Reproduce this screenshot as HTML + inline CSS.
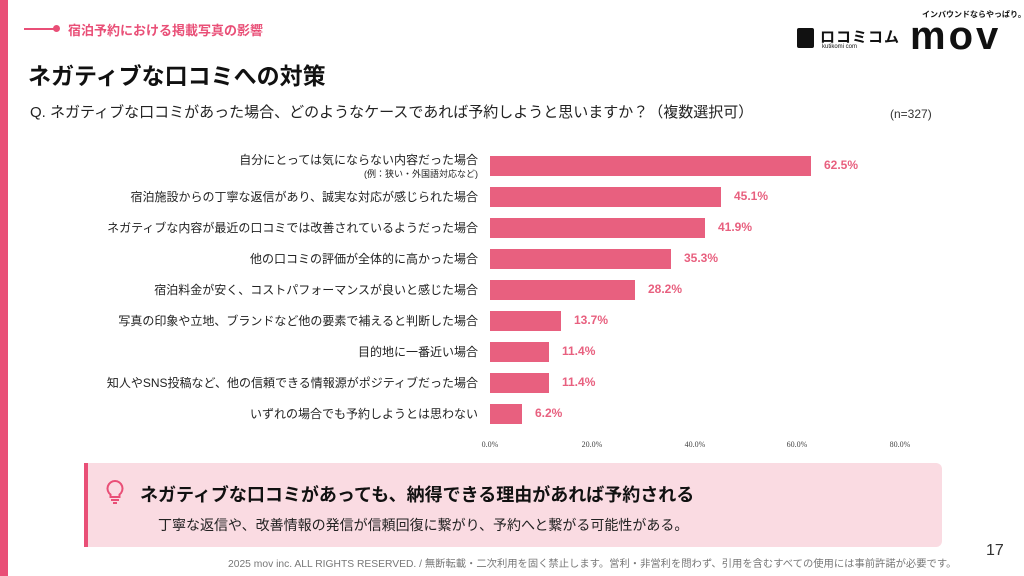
<!DOCTYPE html>
<html><head><meta charset="utf-8"><style>
*{margin:0;padding:0;box-sizing:border-box}
body{width:1024px;height:576px;background:#fff;position:relative;overflow:hidden;font-family:"Liberation Sans","Noto Sans CJK JP",sans-serif;color:#222}
.a{position:absolute;white-space:nowrap}
.bar{position:absolute;left:490px;height:20px;background:#e8607f}
.lab{position:absolute;right:546px;font-size:12px;color:#222;text-align:right}
.val{position:absolute;font-size:12px;font-weight:bold;color:#e8607f}
.tk{position:absolute;top:440px;font-size:8px;font-family:"Liberation Serif",serif;color:#444;transform:translateX(-50%)}
</style></head><body>
<div class="a" style="left:0;top:0;width:8px;height:576px;background:#e94f77"></div>
<div class="a" style="left:24px;top:28px;width:30px;height:2px;background:#e94f77"></div>
<div class="a" style="left:53px;top:25px;width:7px;height:7px;border-radius:50%;background:#e94f77"></div>
<div class="a" style="left:68px;top:20px;font-size:13px;font-weight:bold;color:#e94f77">宿泊予約における掲載写真の影響</div>
<div class="a" style="left:28px;top:57px;font-size:23px;font-weight:bold;color:#111">ネガティブな口コミへの対策</div>
<div class="a" style="left:30px;top:101px;font-size:15px;color:#222">Q. ネガティブな口コミがあった場合、どのようなケースであれば予約しようと思いますか？（複数選択可）</div>
<div class="a" style="left:890px;top:107px;font-size:12px;color:#333">(n=327)</div>
<div class="a" style="left:797px;top:28px;width:17px;height:20px;background:#111;border-radius:2px"></div>
<div class="a" style="left:820px;top:26px;font-size:15px;font-weight:bold;color:#111;letter-spacing:1px">ロコミコム</div>
<div class="a" style="left:822px;top:44px;font-size:6px;color:#111">kutikomi com</div>
<div class="a" style="left:922px;top:9px;font-size:8px;font-weight:bold;color:#111">インバウンドならやっぱり。</div>
<div class="a" style="left:910px;top:14px;font-size:40px;font-weight:bold;color:#111;letter-spacing:3px">mov</div>

<div class="lab" style="top:151px">自分にとっては気にならない内容だった場合</div>
<div class="lab" style="top:167px;font-size:9px">(例：狭い・外国語対応など)</div>
<div class="lab" style="top:188px">宿泊施設からの丁寧な返信があり、誠実な対応が感じられた場合</div>
<div class="lab" style="top:219px">ネガティブな内容が最近の口コミでは改善されているようだった場合</div>
<div class="lab" style="top:250px">他の口コミの評価が全体的に高かった場合</div>
<div class="lab" style="top:281px">宿泊料金が安く、コストパフォーマンスが良いと感じた場合</div>
<div class="lab" style="top:312px">写真の印象や立地、ブランドなど他の要素で補えると判断した場合</div>
<div class="lab" style="top:343px">目的地に一番近い場合</div>
<div class="lab" style="top:374px">知人やSNS投稿など、他の信頼できる情報源がポジティブだった場合</div>
<div class="lab" style="top:405px">いずれの場合でも予約しようとは思わない</div>

<div class="bar" style="top:156px;width:321px"></div><div class="val" style="left:824px;top:158px">62.5%</div>
<div class="bar" style="top:187px;width:231px"></div><div class="val" style="left:734px;top:189px">45.1%</div>
<div class="bar" style="top:218px;width:215px"></div><div class="val" style="left:718px;top:220px">41.9%</div>
<div class="bar" style="top:249px;width:181px"></div><div class="val" style="left:684px;top:251px">35.3%</div>
<div class="bar" style="top:280px;width:145px"></div><div class="val" style="left:648px;top:282px">28.2%</div>
<div class="bar" style="top:311px;width:71px"></div><div class="val" style="left:574px;top:313px">13.7%</div>
<div class="bar" style="top:342px;width:59px"></div><div class="val" style="left:562px;top:344px">11.4%</div>
<div class="bar" style="top:373px;width:59px"></div><div class="val" style="left:562px;top:375px">11.4%</div>
<div class="bar" style="top:404px;width:32px"></div><div class="val" style="left:535px;top:406px">6.2%</div>

<div class="tk" style="left:490px">0.0%</div>
<div class="tk" style="left:592px">20.0%</div>
<div class="tk" style="left:695px">40.0%</div>
<div class="tk" style="left:797px">60.0%</div>
<div class="tk" style="left:900px">80.0%</div>

<div class="a" style="left:84px;top:463px;width:858px;height:84px;background:#fadbe2;border-radius:0 6px 6px 0;border-left:4px solid #e94f77"></div>
<svg class="a" style="left:104px;top:479px" width="22" height="26" viewBox="0 0 22 26"><path d="M11 2a7.5 7.5 0 0 0-4.5 13.5V18h9v-2.5A7.5 7.5 0 0 0 11 2z" fill="none" stroke="#e94f77" stroke-width="2"/><line x1="7" y1="21" x2="15" y2="21" stroke="#e94f77" stroke-width="2"/><line x1="9" y1="24" x2="13" y2="24" stroke="#e94f77" stroke-width="2"/></svg>
<div class="a" style="left:140px;top:481px;font-size:18px;font-weight:bold;color:#111">ネガティブな口コミがあっても、納得できる理由があれば予約される</div>
<div class="a" style="left:158px;top:515px;font-size:14px;color:#222">丁寧な返信や、改善情報の発信が信頼回復に繋がり、予約へと繋がる可能性がある。</div>
<div class="a" style="left:986px;top:542px;font-size:16px;color:#333">17</div>
<div class="a" style="left:228px;top:555px;font-size:10.3px;color:#777">2025 mov inc. ALL RIGHTS RESERVED. / 無断転載・二次利用を固く禁止します。営利・非営利を問わず、引用を含むすべての使用には事前許諾が必要です。</div>
</body></html>
